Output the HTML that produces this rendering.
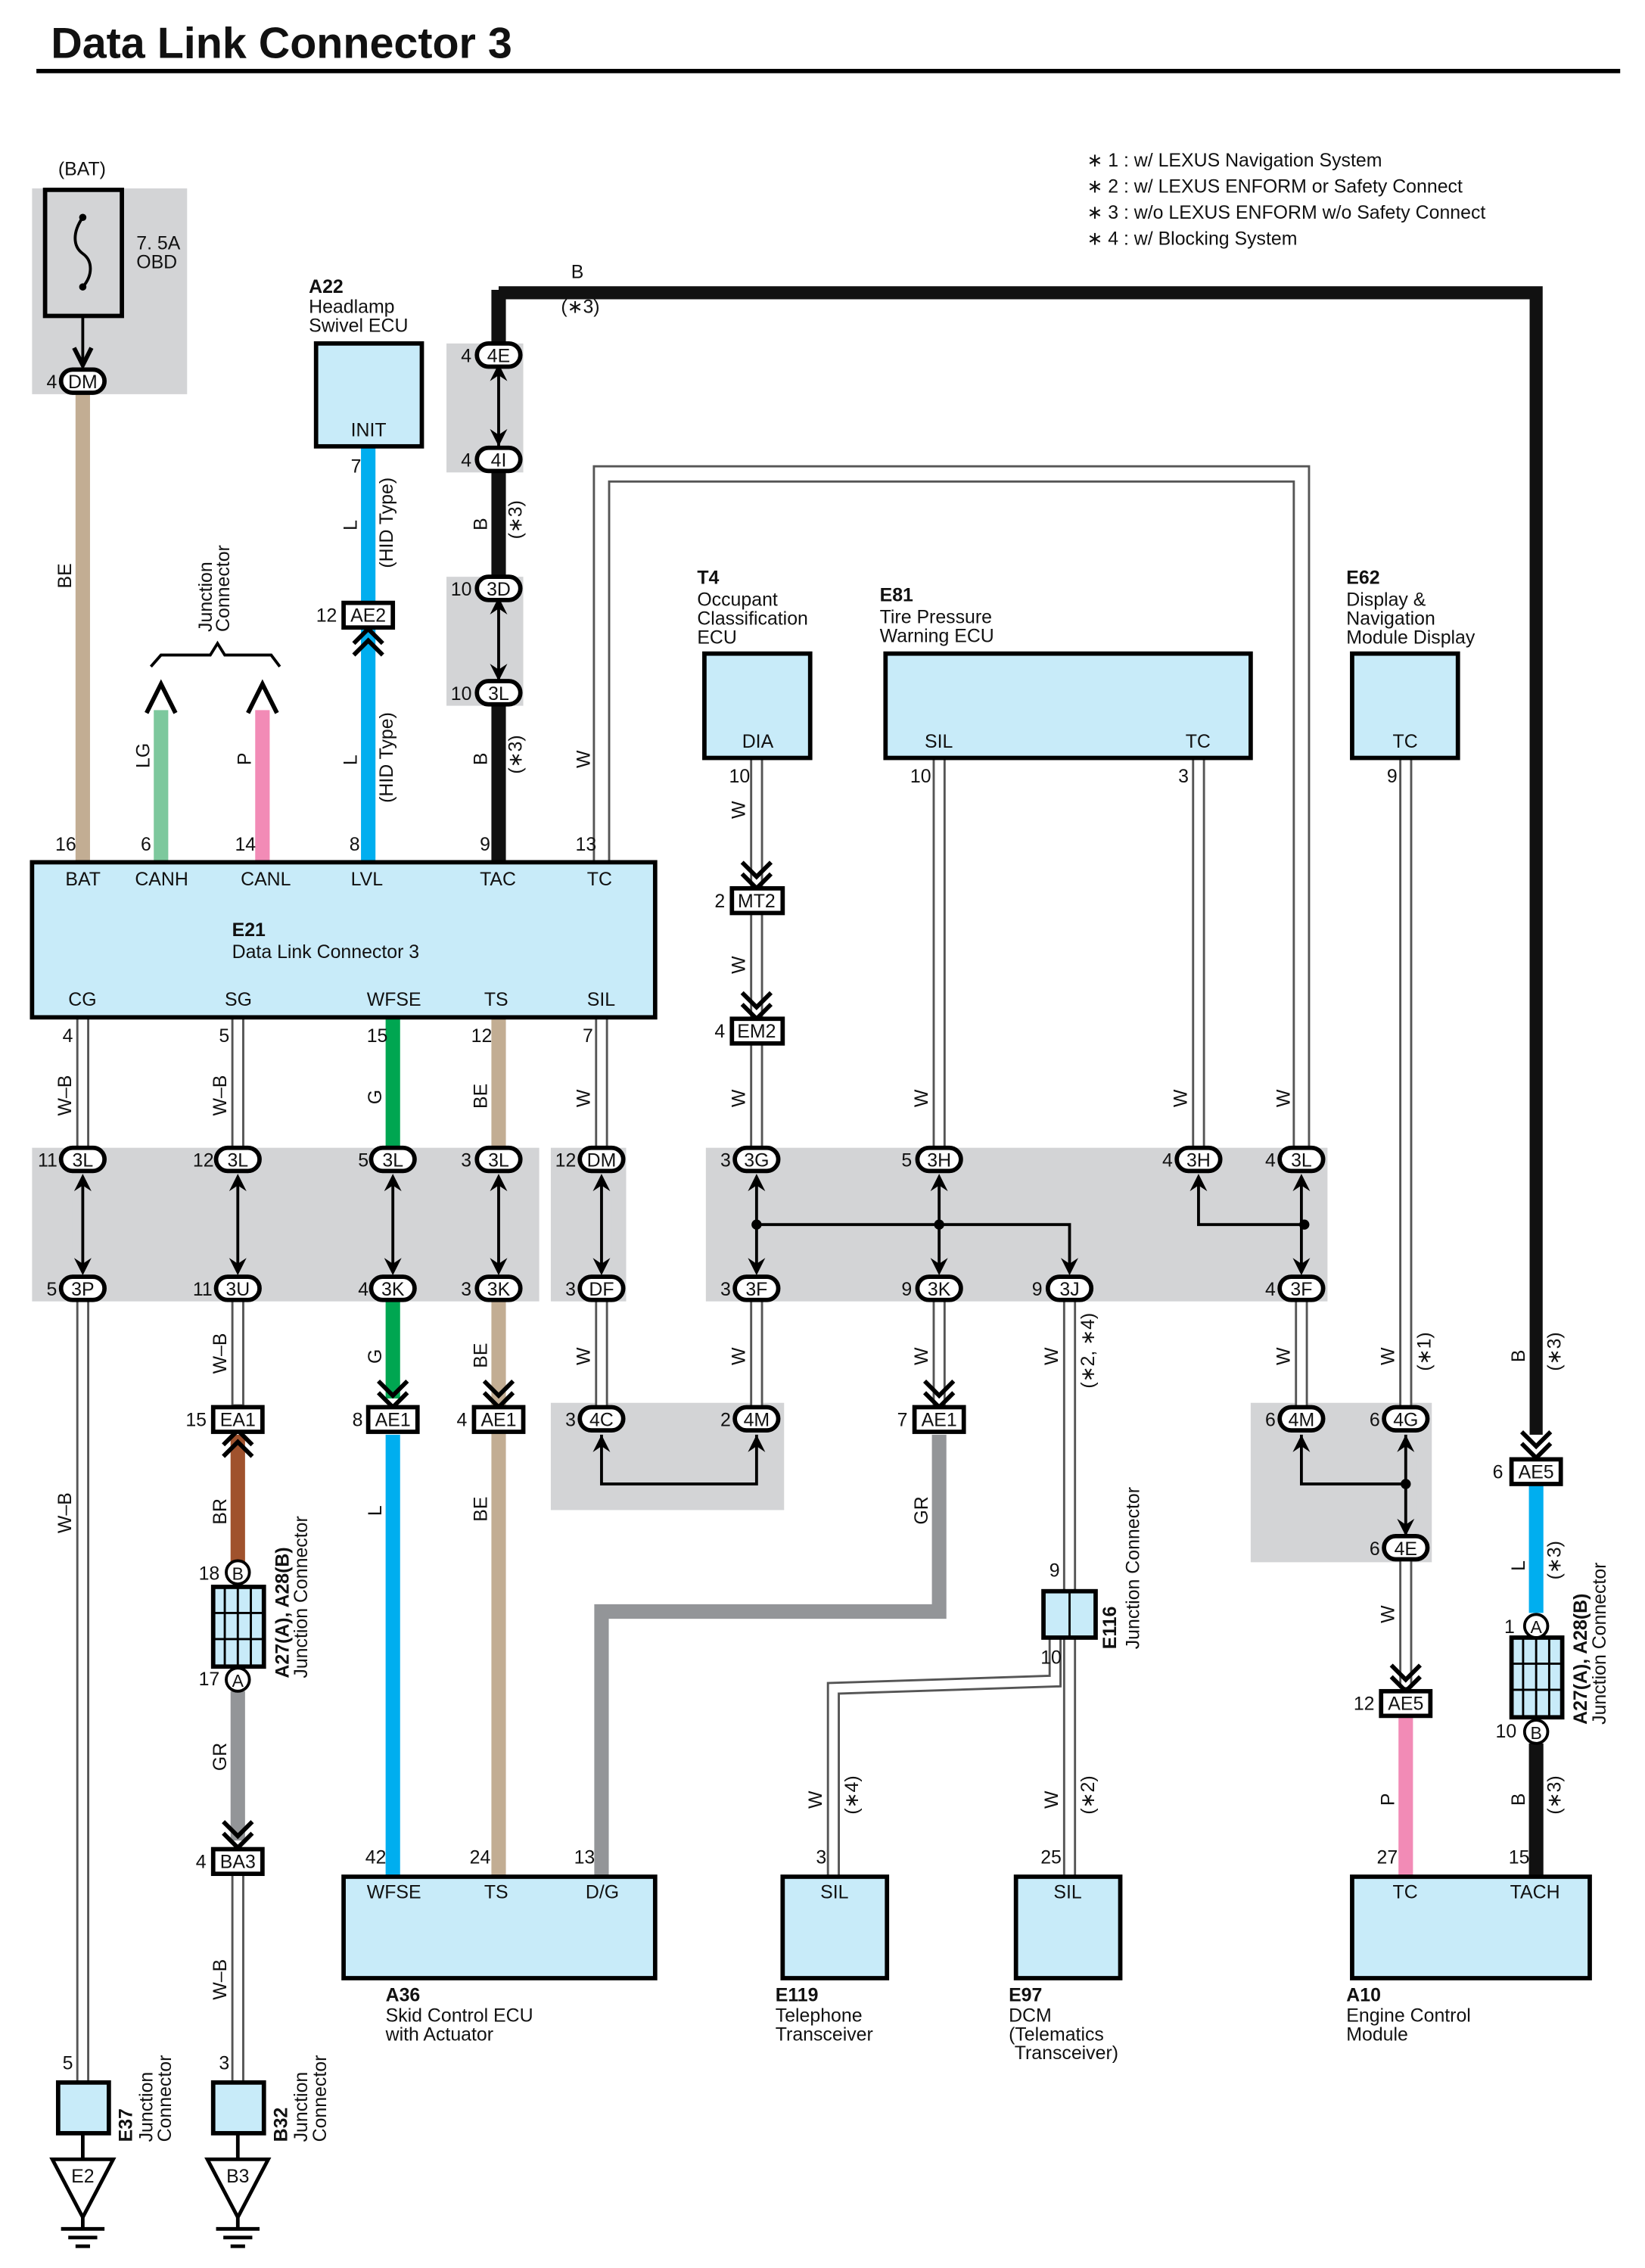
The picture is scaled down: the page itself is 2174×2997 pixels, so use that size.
<!DOCTYPE html>
<html><head><meta charset="utf-8"><style>
html,body{margin:0;padding:0;background:#fff}
svg{display:block}
text{font-family:"Liberation Sans",sans-serif;font-size:13px;fill:#111}
.c{text-anchor:middle}
.b{font-weight:bold}
</style></head><body>
<svg width="2174" height="2997" viewBox="0 0 1135 1565" xmlns="http://www.w3.org/2000/svg">
<text x="35" y="40" style="font-size:30px;font-weight:bold">Data Link Connector 3</text>
<line x1="25" y1="49" x2="1118" y2="49" stroke="#000" stroke-width="3"/>
<g style="font-size:12.5px">
<text x="750" y="115">∗ 1 : w/ LEXUS Navigation System</text>
<text x="750" y="133">∗ 2 : w/ LEXUS ENFORM or Safety Connect</text>
<text x="750" y="151">∗ 3 : w/o LEXUS ENFORM w/o Safety Connect</text>
<text x="750" y="169">∗ 4 : w/ Blocking System</text>
</g>

<g fill="#d3d4d6">
<rect x="22" y="130" width="107" height="142"/>
<rect x="308" y="237" width="53" height="89"/>
<rect x="308" y="398" width="53" height="89"/>
<rect x="22" y="792" width="350" height="106"/>
<rect x="380" y="792" width="52" height="106"/>
<rect x="487" y="792" width="429" height="106"/>
<rect x="380" y="968" width="161" height="74"/>
<rect x="863" y="968" width="125" height="110"/>
</g>

<text x="40" y="121">(BAT)</text>
<rect x="31" y="131" width="53" height="87" fill="none" stroke="#000" stroke-width="3"/>
<path d="M57 150 C50 160,50 170,57 175 C64 180,64 190,57 198" fill="none" stroke="#000" stroke-width="2"/>
<circle cx="57" cy="150" r="2.5"/><circle cx="57" cy="198" r="2.5"/>
<line x1="57" y1="218" x2="57" y2="250" stroke="#000" stroke-width="2"/>
<path d="M51 240 L57 252 L63 240" fill="none" stroke="#000" stroke-width="3"/>
<text x="94" y="172">7. 5A</text><text x="94" y="185">OBD</text>

<g fill="none" stroke-linecap="butt">
<line x1="57" y1="272" x2="57" y2="595" stroke="#c2ad93" stroke-width="10"/>
<line x1="111" y1="490" x2="111" y2="595" stroke="#7dc89d" stroke-width="10"/>
<line x1="181" y1="490" x2="181" y2="595" stroke="#f28bb6" stroke-width="10"/>
<line x1="254" y1="308" x2="254" y2="595" stroke="#00aeef" stroke-width="10"/>
<line x1="344" y1="200" x2="344" y2="595" stroke="#111" stroke-width="10"/>
<polyline points="344,202 1060,202 1060,990" stroke="#111" stroke-width="9"/>
<line x1="271" y1="702" x2="271" y2="965" stroke="#00a651" stroke-width="10"/>
<line x1="271" y1="990" x2="271" y2="1295" stroke="#00aeef" stroke-width="10"/>
<line x1="344" y1="702" x2="344" y2="1295" stroke="#c2ad93" stroke-width="10"/>
<line x1="164" y1="990" x2="164" y2="1078" stroke="#a0522d" stroke-width="10"/>
<line x1="164" y1="1167" x2="164" y2="1270" stroke="#939598" stroke-width="10"/>
<polyline points="648,990 648,1112 415,1112 415,1295" stroke="#939598" stroke-width="10"/>
<line x1="1060" y1="1025" x2="1060" y2="1113" stroke="#00aeef" stroke-width="10"/>
<line x1="1060" y1="1203" x2="1060" y2="1295" stroke="#111" stroke-width="10"/>
<line x1="970" y1="1185" x2="970" y2="1295" stroke="#f28bb6" stroke-width="10"/>
</g>

<g fill="none">
<g stroke="#555" stroke-width="12"><polyline points="415,595 415,327 898,327 898,800"/></g>
<g stroke="#fff" stroke-width="9"><polyline points="415,597 415,327 898,327 898,802"/></g>
<g stroke="#555" stroke-width="9">
<line x1="57" y1="702" x2="57" y2="1437"/>
<line x1="164" y1="702" x2="164" y2="970"/>
<line x1="164" y1="1293" x2="164" y2="1437"/>
<line x1="415" y1="702" x2="415" y2="979"/>
<line x1="522" y1="523" x2="522" y2="979"/>
<line x1="648" y1="523" x2="648" y2="970"/>
<line x1="827" y1="523" x2="827" y2="800"/>
<line x1="898" y1="800" x2="898" y2="979"/>
<line x1="970" y1="523" x2="970" y2="1165"/>
<line x1="738" y1="889" x2="738" y2="1295"/>
<polyline points="728,1130 728,1160 575,1165 575,1295"/>
</g>
<g stroke="#fff" stroke-width="6">
<line x1="57" y1="703" x2="57" y2="1436"/>
<line x1="164" y1="703" x2="164" y2="969"/>
<line x1="164" y1="1294" x2="164" y2="1436"/>
<line x1="415" y1="703" x2="415" y2="978"/>
<line x1="522" y1="524" x2="522" y2="978"/>
<line x1="648" y1="524" x2="648" y2="969"/>
<line x1="827" y1="524" x2="827" y2="799"/>
<line x1="898" y1="799" x2="898" y2="978"/>
<line x1="970" y1="524" x2="970" y2="1164"/>
<line x1="738" y1="890" x2="738" y2="1294"/>
<polyline points="728,1131 728,1160 575,1165 575,1294"/>
</g>
</g>

<!-- cover wires between connector pairs -->
<g fill="#d3d4d6">
<rect x="50" y="808" width="14" height="74"/><rect x="157" y="808" width="14" height="74"/><rect x="264" y="808" width="14" height="74"/><rect x="337" y="808" width="14" height="74"/><rect x="408" y="808" width="14" height="74"/><rect x="515" y="808" width="14" height="74"/><rect x="641" y="808" width="14" height="74"/><rect x="891" y="808" width="14" height="74"/>
<rect x="337" y="253" width="14" height="57"/><rect x="337" y="414" width="14" height="57"/>
<rect x="963" y="987" width="14" height="74"/><rect x="891" y="987" width="14" height="10"/>
</g>

<g stroke="#000" stroke-width="2" fill="none">
<polyline points="415,990 415,1024 522,1024 522,990"/>
<polyline points="522,845 738,845 738,875"/>
<polyline points="827,815 827,845 900,845"/>
<polyline points="898,990 898,1024 970,1024"/>
<line x1="970" y1="990" x2="970" y2="1060"/>
<line x1="344" y1="255" x2="344" y2="308"/>
<line x1="344" y1="416" x2="344" y2="470"/>
<line x1="57" y1="815" x2="57" y2="875"/><line x1="164" y1="815" x2="164" y2="875"/>
<line x1="271" y1="815" x2="271" y2="875"/><line x1="344" y1="815" x2="344" y2="875"/>
<line x1="415" y1="815" x2="415" y2="875"/><line x1="522" y1="815" x2="522" y2="875"/>
<line x1="648" y1="815" x2="648" y2="875"/><line x1="898" y1="815" x2="898" y2="875"/>
</g>
<g fill="#000">
<circle cx="522" cy="845" r="3.5"/><circle cx="648" cy="845" r="3.5"/><circle cx="900" cy="845" r="3.5"/><circle cx="970" cy="1024" r="3.5"/>
</g>
<g fill="#000">
<path d="M51 822 L57 810 L63 822 L57 818Z M51 868 L57 880 L63 868 L57 872Z"/>
<path d="M158 822 L164 810 L170 822 L164 818Z M158 868 L164 880 L170 868 L164 872Z"/>
<path d="M265 822 L271 810 L277 822 L271 818Z M265 868 L271 880 L277 868 L271 872Z"/>
<path d="M338 822 L344 810 L350 822 L344 818Z M338 868 L344 880 L350 868 L344 872Z"/>
<path d="M409 822 L415 810 L421 822 L415 818Z M409 868 L415 880 L421 868 L415 872Z"/>
<path d="M516 822 L522 810 L528 822 L522 818Z M516 868 L522 880 L528 868 L522 872Z"/>
<path d="M642 822 L648 810 L654 822 L648 818Z M642 868 L648 880 L654 868 L648 872Z"/>
<path d="M821 822 L827 810 L833 822 L827 818Z M732 868 L738 880 L744 868 L738 872Z"/>
<path d="M892 822 L898 810 L904 822 L898 818Z M892 868 L898 880 L904 868 L898 872Z"/>
<path d="M409 1002 L415 990 L421 1002 L415 998Z M516 1002 L522 990 L528 1002 L522 998Z"/>
<path d="M892 1002 L898 990 L904 1002 L898 998Z M964 1002 L970 990 L976 1002 L970 998Z M964 1048 L970 1060 L976 1048 L970 1052Z"/>
<path d="M338 263 L344 251 L350 263 L344 259Z M338 296 L344 308 L350 296 L344 300Z"/>
<path d="M338 424 L344 412 L350 424 L344 420Z M338 458 L344 470 L350 458 L344 462Z"/>
</g>
<g fill="none" stroke="#000" stroke-width="3">
<path d="M512 595 L522 605 L532 595 M512 603 L522 613 L532 603"/>
<path d="M512 685 L522 695 L532 685 M512 693 L522 703 L532 693"/>
<path d="M261 953 L271 963 L281 953 M261 961 L271 971 L281 961"/>
<path d="M334 953 L344 963 L354 953 M334 961 L344 971 L354 961"/>
<path d="M638 953 L648 963 L658 953 M638 961 L648 971 L658 961"/>
<path d="M1050 988 L1060 998 L1070 988 M1050 996 L1060 1006 L1070 996"/>
<path d="M960 1149 L970 1159 L980 1149 M960 1157 L970 1167 L980 1157"/>
<path d="M154 1257 L164 1267 L174 1257 M154 1265 L164 1275 L174 1265"/>
<path d="M244 452 L254 442 L264 452 M244 444 L254 434 L264 444"/>
<path d="M154 1005 L164 995 L174 1005 M154 997 L164 987 L174 997"/>
<path d="M101 492 L111 472 L121 492"/>
<path d="M171 492 L181 472 L191 492"/>
<path d="M104 460 L111 452 L145 452 L150 444 L155 452 L187 452 L193 460" stroke-width="2"/>
</g>

<g fill="#c8ebf9" stroke="#000" stroke-width="3">
<rect x="218" y="237" width="73" height="71"/>
<rect x="486" y="451" width="73" height="72"/>
<rect x="611" y="451" width="252" height="72"/>
<rect x="933" y="451" width="73" height="72"/>
<rect x="22" y="595" width="430" height="107"/>
<rect x="237" y="1295" width="215" height="70"/>
<rect x="540" y="1295" width="72" height="70"/>
<rect x="701" y="1295" width="72" height="70"/>
<rect x="933" y="1295" width="164" height="70"/>
<rect x="40" y="1437" width="35" height="35"/>
<rect x="147" y="1437" width="35" height="35"/>
<rect x="720" y="1098" width="36" height="32"/>
<rect x="147" y="1095" width="35" height="55"/>
<rect x="1043" y="1130" width="35" height="55"/>
</g>
<g stroke="#000" stroke-width="1.5">
<line x1="738" y1="1098" x2="738" y2="1130"/>
<line x1="164" y1="1095" x2="164" y2="1150"/><line x1="147" y1="1113" x2="182" y2="1113"/><line x1="147" y1="1131" x2="182" y2="1131"/><line x1="155" y1="1095" x2="155" y2="1150"/><line x1="173" y1="1095" x2="173" y2="1150"/>
<line x1="1060" y1="1130" x2="1060" y2="1185"/><line x1="1043" y1="1148" x2="1078" y2="1148"/><line x1="1043" y1="1166" x2="1078" y2="1166"/><line x1="1051" y1="1130" x2="1051" y2="1185"/><line x1="1069" y1="1130" x2="1069" y2="1185"/>
</g>
<g fill="#fff" stroke="#000" stroke-width="2.5">
<line x1="57" y1="1472" x2="57" y2="1490"/><line x1="164" y1="1472" x2="164" y2="1490"/>
<path d="M36 1490 L78 1490 L57 1530Z"/><path d="M143 1490 L185 1490 L164 1530Z"/>
<line x1="57" y1="1530" x2="57" y2="1538"/><line x1="164" y1="1530" x2="164" y2="1538"/>
<line x1="42" y1="1538" x2="72" y2="1538"/><line x1="47" y1="1544" x2="67" y2="1544"/><line x1="52" y1="1550" x2="62" y2="1550"/>
<line x1="149" y1="1538" x2="179" y2="1538"/><line x1="154" y1="1544" x2="174" y2="1544"/><line x1="159" y1="1550" x2="169" y2="1550"/>
</g>
<text class="c" x="57" y="1506">E2</text><text class="c" x="164" y="1506">B3</text>

<g fill="#fff" stroke="#000" stroke-width="3">
<rect x="42" y="255" width="30" height="16" rx="8"/>
<rect x="329" y="237" width="30" height="16" rx="8"/><rect x="329" y="309" width="30" height="16" rx="8"/>
<rect x="329" y="398" width="30" height="16" rx="8"/><rect x="329" y="470" width="30" height="16" rx="8"/>
<rect x="42" y="792" width="30" height="16" rx="8"/><rect x="149" y="792" width="30" height="16" rx="8"/><rect x="256" y="792" width="30" height="16" rx="8"/><rect x="329" y="792" width="30" height="16" rx="8"/><rect x="400" y="792" width="30" height="16" rx="8"/><rect x="507" y="792" width="30" height="16" rx="8"/><rect x="633" y="792" width="30" height="16" rx="8"/><rect x="812" y="792" width="30" height="16" rx="8"/><rect x="883" y="792" width="30" height="16" rx="8"/>
<rect x="42" y="881" width="30" height="16" rx="8"/><rect x="149" y="881" width="30" height="16" rx="8"/><rect x="256" y="881" width="30" height="16" rx="8"/><rect x="329" y="881" width="30" height="16" rx="8"/><rect x="400" y="881" width="30" height="16" rx="8"/><rect x="507" y="881" width="30" height="16" rx="8"/><rect x="633" y="881" width="30" height="16" rx="8"/><rect x="723" y="881" width="30" height="16" rx="8"/><rect x="883" y="881" width="30" height="16" rx="8"/>
<rect x="400" y="971" width="30" height="16" rx="8"/><rect x="507" y="971" width="30" height="16" rx="8"/><rect x="883" y="971" width="30" height="16" rx="8"/><rect x="955" y="971" width="30" height="16" rx="8"/><rect x="955" y="1060" width="30" height="16" rx="8"/>
</g>
<g fill="#fff" stroke="#000" stroke-width="2">
<circle cx="164" cy="1085" r="8"/><circle cx="164" cy="1159" r="8"/><circle cx="1060" cy="1122" r="8"/><circle cx="1060" cy="1195" r="8"/>
</g>
<g fill="#fff" stroke="#000" stroke-width="3">
<rect x="237" y="416" width="34" height="17"/><rect x="505" y="613" width="35" height="17"/><rect x="505" y="703" width="35" height="17"/>
<rect x="147" y="971" width="34" height="17"/><rect x="254" y="971" width="34" height="17"/><rect x="327" y="971" width="34" height="17"/><rect x="631" y="971" width="34" height="17"/>
<rect x="1043" y="1007" width="34" height="17"/><rect x="953" y="1167" width="34" height="17"/><rect x="147" y="1276" width="34" height="17"/>
</g>
<g class="c">
<text class="c" x="57" y="268">DM</text>
<text class="c" x="344" y="250">4E</text><text class="c" x="344" y="322">4I</text><text class="c" x="344" y="411">3D</text><text class="c" x="344" y="483">3L</text>
<text class="c" x="57" y="805">3L</text><text class="c" x="164" y="805">3L</text><text class="c" x="271" y="805">3L</text><text class="c" x="344" y="805">3L</text><text class="c" x="415" y="805">DM</text><text class="c" x="522" y="805">3G</text><text class="c" x="648" y="805">3H</text><text class="c" x="827" y="805">3H</text><text class="c" x="898" y="805">3L</text>
<text class="c" x="57" y="894">3P</text><text class="c" x="164" y="894">3U</text><text class="c" x="271" y="894">3K</text><text class="c" x="344" y="894">3K</text><text class="c" x="415" y="894">DF</text><text class="c" x="522" y="894">3F</text><text class="c" x="648" y="894">3K</text><text class="c" x="738" y="894">3J</text><text class="c" x="898" y="894">3F</text>
<text class="c" x="415" y="984">4C</text><text class="c" x="522" y="984">4M</text><text class="c" x="898" y="984">4M</text><text class="c" x="970" y="984">4G</text><text class="c" x="970" y="1073">4E</text>
<text class="c" x="254" y="429">AE2</text><text class="c" x="522" y="626">MT2</text><text class="c" x="522" y="716">EM2</text>
<text class="c" x="164" y="984">EA1</text><text class="c" x="271" y="984">AE1</text><text class="c" x="344" y="984">AE1</text><text class="c" x="648" y="984">AE1</text>
<text class="c" x="1060" y="1020">AE5</text><text class="c" x="970" y="1180">AE5</text><text class="c" x="164" y="1289">BA3</text>
<text class="c" x="164" y="1090" style="font-size:12px">B</text><text class="c" x="164" y="1164" style="font-size:12px">A</text><text class="c" x="1060" y="1127" style="font-size:12px">A</text><text class="c" x="1060" y="1200" style="font-size:12px">B</text>
</g>

<g style="font-size:12px">
<text x="32" y="268">4</text><text x="318" y="250">4</text><text x="318" y="322">4</text><text x="311" y="411">10</text><text x="311" y="483">10</text>
<text x="26" y="805">11</text><text x="133" y="805">12</text><text x="247" y="805">5</text><text x="318" y="805">3</text><text x="383" y="805">12</text><text x="497" y="805">3</text><text x="622" y="805">5</text><text x="802" y="805">4</text><text x="873" y="805">4</text>
<text x="32" y="894">5</text><text x="133" y="894">11</text><text x="247" y="894">4</text><text x="318" y="894">3</text><text x="390" y="894">3</text><text x="497" y="894">3</text><text x="622" y="894">9</text><text x="712" y="894">9</text><text x="873" y="894">4</text>
<text x="390" y="984">3</text><text x="497" y="984">2</text><text x="873" y="984">6</text><text x="945" y="984">6</text><text x="945" y="1073">6</text>
<text x="218" y="429">12</text><text x="493" y="626">2</text><text x="493" y="716">4</text><text x="128" y="984">15</text><text x="243" y="984">8</text><text x="315" y="984">4</text><text x="619" y="984">7</text><text x="1030" y="1020">6</text><text x="934" y="1180">12</text><text x="135" y="1289">4</text>
<text x="137" y="1090">18</text><text x="137" y="1163">17</text><text x="1038" y="1127">1</text><text x="1032" y="1199">10</text>
<text x="242" y="326">7</text><text x="38" y="587">16</text><text x="97" y="587">6</text><text x="162" y="587">14</text><text x="241" y="587">8</text><text x="331" y="587">9</text><text x="397" y="587">13</text>
<text x="43" y="719">4</text><text x="151" y="719">5</text><text x="253" y="719">15</text><text x="325" y="719">12</text><text x="402" y="719">7</text>
<text x="503" y="540">10</text><text x="628" y="540">10</text><text x="813" y="540">3</text><text x="957" y="540">9</text>
<text x="252" y="1286">42</text><text x="324" y="1286">24</text><text x="396" y="1286">13</text><text x="563" y="1286">3</text><text x="718" y="1286">25</text><text x="950" y="1286">27</text><text x="1041" y="1286">15</text>
<text x="43" y="1428">5</text><text x="151" y="1428">3</text><text x="724" y="1088">9</text><text x="718" y="1148">10</text>
</g>

<text x="242" y="301">INIT</text><text x="512" y="516">DIA</text><text x="638" y="516">SIL</text><text x="818" y="516">TC</text><text x="961" y="516">TC</text>
<text x="45" y="611">BAT</text><text x="93" y="611">CANH</text><text x="166" y="611">CANL</text><text x="242" y="611">LVL</text><text x="331" y="611">TAC</text><text x="405" y="611">TC</text>
<text x="160" y="646" class="b">E21</text><text x="160" y="661">Data Link Connector 3</text>
<text x="47" y="694">CG</text><text x="155" y="694">SG</text><text x="253" y="694">WFSE</text><text x="334" y="694">TS</text><text x="405" y="694">SIL</text>
<text x="253" y="1310">WFSE</text><text x="334" y="1310">TS</text><text x="404" y="1310">D/G</text>
<text x="566" y="1310">SIL</text><text x="727" y="1310">SIL</text><text x="961" y="1310">TC</text><text x="1042" y="1310">TACH</text>
<text x="213" y="202" class="b">A22</text><text x="213" y="216">Headlamp</text><text x="213" y="229">Swivel ECU</text>
<text x="481" y="403" class="b">T4</text><text x="481" y="418">Occupant</text><text x="481" y="431">Classification</text><text x="481" y="444">ECU</text>
<text x="607" y="415" class="b">E81</text><text x="607" y="430">Tire Pressure</text><text x="607" y="443">Warning ECU</text>
<text x="929" y="403" class="b">E62</text><text x="929" y="418">Display &amp;</text><text x="929" y="431">Navigation</text><text x="929" y="444">Module Display</text>
<text x="266" y="1381" class="b">A36</text><text x="266" y="1395">Skid Control ECU</text><text x="266" y="1408">with Actuator</text>
<text x="535" y="1381" class="b">E119</text><text x="535" y="1395">Telephone</text><text x="535" y="1408">Transceiver</text>
<text x="696" y="1381" class="b">E97</text><text x="696" y="1395">DCM</text><text x="696" y="1408">(Telematics</text><text x="700" y="1421">Transceiver)</text>
<text x="929" y="1381" class="b">A10</text><text x="929" y="1395">Engine Control</text><text x="929" y="1408">Module</text>
<text x="394" y="192">B</text><text x="387" y="216">(∗3)</text>

<g style="font-size:12px">
<text transform="translate(49,406) rotate(-90)">BE</text>
<text transform="translate(103,530) rotate(-90)">LG</text>
<text transform="translate(173,528) rotate(-90)">P</text>
<text transform="translate(146,436) rotate(-90)">Junction</text><text transform="translate(158,436) rotate(-90)">Connector</text>
<text transform="translate(246,366) rotate(-90)">L</text><text transform="translate(271,392) rotate(-90)">(HID Type)</text>
<text transform="translate(246,528) rotate(-90)">L</text><text transform="translate(271,554) rotate(-90)">(HID Type)</text>
<text transform="translate(336,366) rotate(-90)">B</text><text transform="translate(360,372) rotate(-90)">(∗3)</text>
<text transform="translate(336,528) rotate(-90)">B</text><text transform="translate(360,534) rotate(-90)">(∗3)</text>
<text transform="translate(407,530) rotate(-90)">W</text><text transform="translate(514,565) rotate(-90)">W</text><text transform="translate(514,672) rotate(-90)">W</text>
<text transform="translate(49,770) rotate(-90)">W–B</text><text transform="translate(156,770) rotate(-90)">W–B</text><text transform="translate(263,762) rotate(-90)">G</text><text transform="translate(336,765) rotate(-90)">BE</text>
<text transform="translate(407,764) rotate(-90)">W</text><text transform="translate(514,764) rotate(-90)">W</text><text transform="translate(640,764) rotate(-90)">W</text><text transform="translate(819,764) rotate(-90)">W</text><text transform="translate(890,764) rotate(-90)">W</text>
<text transform="translate(156,948) rotate(-90)">W–B</text><text transform="translate(263,941) rotate(-90)">G</text><text transform="translate(336,944) rotate(-90)">BE</text><text transform="translate(407,942) rotate(-90)">W</text><text transform="translate(514,942) rotate(-90)">W</text><text transform="translate(640,942) rotate(-90)">W</text><text transform="translate(730,942) rotate(-90)">W</text><text transform="translate(755,958) rotate(-90)">(∗2, ∗4)</text>
<text transform="translate(890,942) rotate(-90)">W</text><text transform="translate(962,942) rotate(-90)">W</text><text transform="translate(987,946) rotate(-90)">(∗1)</text><text transform="translate(1052,940) rotate(-90)">B</text><text transform="translate(1077,946) rotate(-90)">(∗3)</text>
<text transform="translate(49,1058) rotate(-90)">W–B</text><text transform="translate(156,1052) rotate(-90)">BR</text><text transform="translate(263,1046) rotate(-90)">L</text><text transform="translate(336,1050) rotate(-90)">BE</text><text transform="translate(640,1052) rotate(-90)">GR</text>
<text transform="translate(156,1222) rotate(-90)">GR</text><text transform="translate(156,1380) rotate(-90)">W–B</text>
<text transform="translate(567,1248) rotate(-90)">W</text><text transform="translate(592,1252) rotate(-90)">(∗4)</text><text transform="translate(730,1248) rotate(-90)">W</text><text transform="translate(755,1252) rotate(-90)">(∗2)</text>
<text transform="translate(962,1120) rotate(-90)">W</text><text transform="translate(962,1246) rotate(-90)">P</text><text transform="translate(1052,1084) rotate(-90)">L</text><text transform="translate(1077,1090) rotate(-90)">(∗3)</text><text transform="translate(1052,1246) rotate(-90)">B</text><text transform="translate(1077,1252) rotate(-90)">(∗3)</text>
<text transform="translate(199,1158) rotate(-90)" class="b">A27(A), A28(B)</text><text transform="translate(212,1158) rotate(-90)">Junction Connector</text>
<text transform="translate(1095,1190) rotate(-90)" class="b">A27(A), A28(B)</text><text transform="translate(1108,1190) rotate(-90)">Junction Connector</text>
<text transform="translate(770,1138) rotate(-90)" class="b">E116</text><text transform="translate(786,1138) rotate(-90)">Junction Connector</text>
<text transform="translate(91,1478) rotate(-90)" class="b">E37</text><text transform="translate(105,1478) rotate(-90)">Junction</text><text transform="translate(118,1478) rotate(-90)">Connector</text>
<text transform="translate(198,1478) rotate(-90)" class="b">B32</text><text transform="translate(212,1478) rotate(-90)">Junction</text><text transform="translate(225,1478) rotate(-90)">Connector</text>
</g>
</svg>
</body></html>
